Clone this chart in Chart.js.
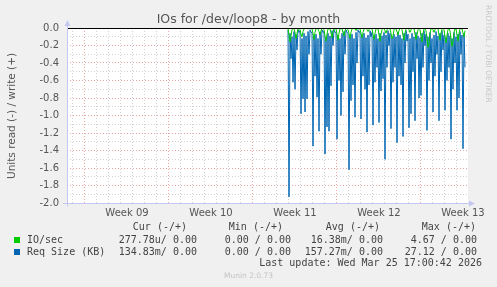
<!DOCTYPE html>
<html>
<head>
<meta charset="utf-8">
<script src="https://cdn.jsdelivr.net/npm/chart.js@4.4.1/dist/chart.umd.min.js"></script>
<style>
body { margin: 0; background: #f0f0f0; }
#wrap { position: relative; width: 497px; height: 287px; overflow: hidden; }
#wrap .t { position: absolute; white-space: pre; font-family: 'DejaVu Sans', sans-serif; color: #555; }
#wrap .m { font-family: 'DejaVu Sans Mono', monospace; font-size: 10px; line-height: 12px; height: 12px; color: #444; }
</style>
</head>
<body>
<div id="wrap">
  <canvas id="chart" width="497" height="287"></canvas>
</div>
<script>
// samples every 2 hours, x axis unit = days
const sampleStart = 17.92;
const sampleStep = 1 / 12;

// Req Size (KB), read side (negative)
const reqSize = [
  -0.02,-1.93,-0.06,-0.35,-0.10,-0.62,-0.04,-0.70,-0.08,-0.25,-0.02,-0.05,
  -0.03,-0.98,-0.12,-0.81,-0.06,-0.96,-0.09,-0.81,-0.04,-0.30,-0.02,-0.05,
  -0.05,-1.35,-0.10,-0.55,-0.07,-0.79,-0.12,-1.18,-0.05,-0.30,-0.02,-0.05,
  -0.04,-1.44,-0.11,-1.13,-0.06,-1.18,-0.09,-0.66,-0.03,-0.20,-0.02,-0.05,
  -0.05,-1.27,-0.08,-0.60,-0.12,-1.00,-0.06,-0.73,-0.04,-0.30,-0.02,-0.05,
  -0.06,-1.62,-0.10,-0.83,-0.07,-0.65,-0.12,-1.02,-0.05,-0.40,-0.02,-0.05,
  -0.04,-1.04,-0.09,-0.55,-0.06,-0.70,-0.11,-1.19,-0.08,-0.65,-0.03,-0.10,
  -0.05,-1.11,-0.10,-0.62,-0.07,-0.45,-0.12,-1.08,-0.06,-0.72,-0.09,-0.58,
  -0.05,-1.50,-0.08,-0.45,-0.03,-0.20,-0.06,-1.15,-0.11,-0.62,-0.07,-0.45,
  -0.10,-1.31,-0.05,-0.55,-0.08,-0.65,-0.12,-1.24,-0.06,-0.40,-0.03,-0.15,
  -0.07,-1.14,-0.12,-0.98,-0.06,-0.50,-0.10,-1.06,-0.05,-0.35,-0.09,-0.80,
  -0.11,-0.77,-0.06,-0.45,-0.03,-0.20,-0.07,-1.17,-0.10,-0.60,-0.05,-0.40,
  -0.12,-0.96,-0.08,-0.55,-0.04,-0.30,-0.09,-1.06,-0.06,-0.50,-0.03,-0.25,
  -0.08,-0.94,-0.11,-0.60,-0.06,-0.45,-0.09,-1.27,-0.12,-0.70,-0.05,-0.40,
  -0.10,-0.94,-0.07,-0.80,-0.04,-0.30,-0.08,-1.38,-0.06,-0.45
];

// IO/sec, read side (negative)
const ioSec = [
  -0.01,-0.08,-0.16,-0.09,-0.02,-0.005,
  -0.01,-0.05,-0.12,-0.06,-0.01,-0.005,
  -0.02,-0.07,-0.10,-0.04,-0.01,-0.005,
  -0.005,-0.005,-0.01,-0.005,-0.005,-0.005,
  -0.01,-0.06,-0.13,-0.05,-0.01,-0.005,
  -0.01,-0.04,-0.08,-0.03,-0.005,-0.005,
  -0.02,-0.09,-0.15,-0.07,-0.01,-0.005,
  -0.01,-0.06,-0.11,-0.04,-0.01,-0.005,
  -0.01,-0.07,-0.14,-0.06,-0.01,-0.005,
  -0.01,-0.05,-0.09,-0.03,-0.005,-0.005,
  -0.02,-0.06,-0.12,-0.05,-0.01,-0.005,
  -0.005,-0.01,-0.03,-0.01,-0.005,-0.005,
  -0.01,-0.06,-0.11,-0.05,-0.01,-0.005,
  -0.005,-0.02,-0.04,-0.02,-0.005,-0.005,
  -0.01,-0.07,-0.13,-0.06,-0.01,-0.005,
  -0.01,-0.08,-0.15,-0.07,-0.02,-0.005,
  -0.005,-0.03,-0.06,-0.02,-0.005,-0.005,
  -0.01,-0.06,-0.12,-0.09,-0.02,-0.005,
  -0.01,-0.04,-0.08,-0.03,-0.005,-0.005,
  -0.02,-0.09,-0.14,-0.06,-0.01,-0.005,
  -0.005,-0.02,-0.05,-0.02,-0.005,-0.005,
  -0.01,-0.07,-0.13,-0.08,-0.02,-0.005,
  -0.02,-0.10,-0.16,-0.07,-0.01,-0.005,
  -0.03,-0.12,-0.22,-0.18,-0.06,-0.01,
  -0.005,-0.02,-0.05,-0.02,-0.005,-0.005,
  -0.01,-0.08,-0.14,-0.06,-0.01,-0.005,
  -0.02,-0.10,-0.17,-0.08,-0.02,-0.005,
  -0.03,-0.13,-0.21,-0.16,-0.05,-0.01,
  -0.01,-0.08,-0.15,-0.06,-0.01,-0.005,
  -0.01,-0.06,-0.10,-0.03
];

const weekNames = ['Week 09', 'Week 10', 'Week 11', 'Week 12', 'Week 13'];
const weekMid = [4.5, 11.5, 18.5, 25.5, 32.5];
const weekStart = [1, 8, 15, 22, 29];

const seriesNames = ['IO/sec', 'Req Size (KB)'];
const seriesColors = ['#00cc00', '#0066b3'];
const legendHeads = ['Cur (-/+)', 'Min (-/+)', 'Avg (-/+)', 'Max (-/+)'];
const legendCur = ['277.78u/ 0.00', '134.83m/ 0.00'];
const legendMin = ['0.00 / 0.00', '0.00 / 0.00'];
const legendAvg = ['16.38m/ 0.00', '157.27m/ 0.00'];
const legendMax = ['4.67 / 0.00', '27.12 / 0.00'];
const lastUpdate = 'Last update: Wed Mar 25 17:00:42 2026';

const toPoints = arr => arr.map((v, i) => ({x: sampleStart + i * sampleStep, y: v}));

const axisColor = '#c4c8f0';
const majorGrid = '#e8a8a8';
const minorGrid = '#d2d2d2';

// white plot area, zero line, munin style axes with arrows
const muninPlugin = {
  id: 'munin',
  beforeDraw(chart) {
    const a = chart.chartArea, c = chart.ctx;
    c.save();
    c.fillStyle = '#fff';
    c.fillRect(a.left, a.top, a.right - a.left, a.bottom - a.top);
    c.restore();
  },
  afterDatasetsDraw(chart) {
    const a = chart.chartArea, c = chart.ctx;
    const y0 = Math.round(chart.scales.y.getPixelForValue(0)) + 0.5;
    c.save();
    c.strokeStyle = '#000';
    c.lineWidth = 1;
    c.beginPath();
    c.moveTo(a.left, y0);
    c.lineTo(a.right, y0);
    c.stroke();

    const lx = Math.round(a.left) + 0.5, by = Math.round(a.bottom) + 0.5;
    c.strokeStyle = axisColor;
    c.beginPath();
    c.moveTo(lx, by + 3);
    c.lineTo(lx, a.top - 4);
    c.moveTo(a.left - 4, by);
    c.lineTo(a.right + 2, by);
    c.stroke();
    c.fillStyle = axisColor;
    c.beginPath();
    c.moveTo(lx - 3, a.top - 2);
    c.lineTo(lx + 3, a.top - 2);
    c.lineTo(lx, a.top - 8);
    c.closePath();
    c.fill();
    c.beginPath();
    c.moveTo(a.right + 1, by - 3);
    c.lineTo(a.right + 1, by + 3);
    c.lineTo(a.right + 7, by);
    c.closePath();
    c.fill();
    c.restore();
  }
};

new Chart(document.getElementById('chart'), {
  type: 'line',
  data: {
    datasets: [
      {label: seriesNames[0], data: toPoints(ioSec), borderColor: seriesColors[0], borderWidth: 1, pointRadius: 0, tension: 0},
      {label: seriesNames[1], data: toPoints(reqSize), borderColor: seriesColors[1], borderWidth: 1, pointRadius: 0, tension: 0}
    ]
  },
  options: {
    responsive: false,
    animation: false,
    events: [],
    layout: {padding: {left: 0, right: 29, top: 28, bottom: 64}},
    plugins: {legend: {display: false}, tooltip: {enabled: false}, title: {display: false}},
    scales: {
      x: {
        type: 'linear',
        min: -0.5,
        max: 32.92,
        afterFit: s => { s.height = 20; },
        afterBuildTicks: s => {
          const t = [];
          for (let d = 0; d <= 32; d++) t.push({value: d});
          weekMid.forEach(v => t.push({value: v}));
          t.sort((p, q) => p.value - q.value);
          s.ticks = t;
        },
        ticks: {
          autoSkip: false,
          maxRotation: 0,
          padding: 4,
          color: '#555',
          font: {family: 'DejaVu Sans', size: 10},
          callback: v => {
            const k = weekMid.indexOf(v);
            return k >= 0 ? weekNames[k] : '';
          }
        },
        grid: {
          drawTicks: false,
          color: ctx => {
            const v = ctx.tick ? ctx.tick.value : 0;
            if (!Number.isInteger(v)) return 'rgba(0,0,0,0)';
            return weekStart.includes(v) ? majorGrid : minorGrid;
          }
        },
        border: {display: false, dash: [1, 2]}
      },
      y: {
        min: -2,
        max: 0,
        afterFit: s => { s.width = 67; },
        ticks: {
          stepSize: 0.1,
          autoSkip: false,
          padding: 8,
          color: '#555',
          font: {family: 'DejaVu Sans', size: 10},
          callback: v => (Math.round(v * 10) % 2 === 0 ? v.toFixed(1) : '')
        },
        grid: {
          drawTicks: false,
          color: ctx => {
            const v = ctx.tick ? Math.round(ctx.tick.value * 10) : 0;
            return v % 2 === 0 ? majorGrid : minorGrid;
          }
        },
        border: {display: false, dash: [1, 2]}
      }
    }
  },
  plugins: [muninPlugin]
});

// texts around the plot
const wrap = document.getElementById('wrap');
function addText(txt, cls, css) {
  const d = document.createElement('div');
  d.className = cls;
  d.textContent = txt;
  Object.assign(d.style, css);
  wrap.appendChild(d);
  return d;
}

addText('IOs for /dev/loop8 - by month', 't', {left: '0px', width: '497px', textAlign: 'center', top: '12px', fontSize: '12.5px', lineHeight: '14px'});
addText('Units read (-) / write (+)', 't', {left: '-69px', top: '109px', width: '160px', textAlign: 'center', fontSize: '10.5px', lineHeight: '14px', transform: 'rotate(-90deg)'});
addText('RRDTOOL / TOBI OETIKER', 't', {left: '483px', top: '5px', fontSize: '7.6px', color: '#c8c8c8', writingMode: 'vertical-rl', lineHeight: '10px'});

const headRight = [187, 283, 380, 476];
const valRight = [197, 291, 383, 477];
legendHeads.forEach((h, i) => addText(h, 't m', {right: (497 - headRight[i]) + 'px', top: '221px'}));

const rowTop = [234, 246];
seriesNames.forEach((name, r) => {
  const sq = document.createElement('div');
  Object.assign(sq.style, {position: 'absolute', left: '14px', top: (rowTop[r] + 3) + 'px', width: '6px', height: '6px', background: seriesColors[r]});
  wrap.appendChild(sq);
  addText(name, 't m', {left: '27px', top: rowTop[r] + 'px'});
  [legendCur, legendMin, legendAvg, legendMax].forEach((col, c) => {
    addText(col[r], 't m', {right: (497 - valRight[c]) + 'px', top: rowTop[r] + 'px'});
  });
});
addText(lastUpdate, 't m', {right: '15px', top: '257px'});
addText('Munin 2.0.73', 't', {left: '0px', width: '497px', textAlign: 'center', top: '271px', fontSize: '7.5px', lineHeight: '10px', color: '#c4c4c4'});
</script>
</body>
</html>
